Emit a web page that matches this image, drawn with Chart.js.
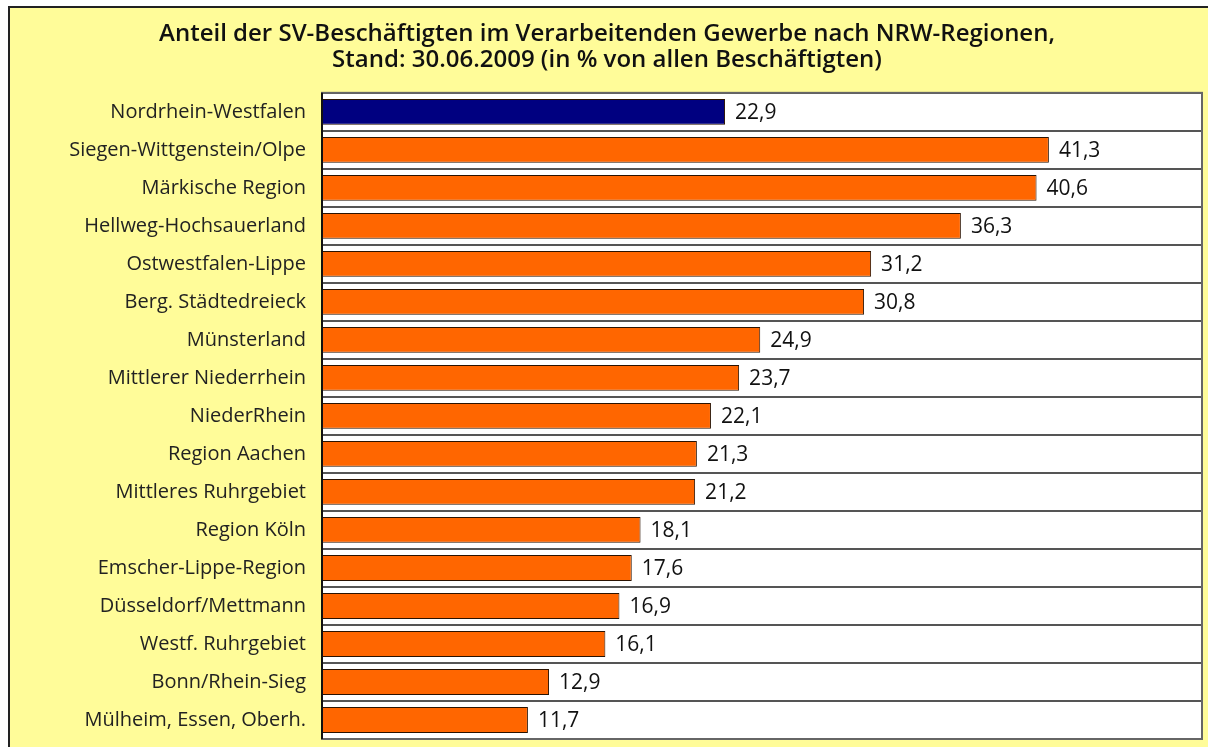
<!DOCTYPE html>
<html>
<head>
    <title>SV-Beschäftigte NRW</title>
    <script src="https://cdn.jsdelivr.net/npm/chart.js@4.4.0/dist/chart.umd.min.js"></script>
    <style>
    html, body {
        margin: 0;
        width: 1208px;
        height: 747px;
        background: #fff;
        overflow: hidden;
    }
    #frame {
        position: absolute;
        left: 8px;
        top: 6px;
        width: 1198px;
        height: 739px;
        border-left: 2px solid #222;
        border-top: 2px solid #222;
        background: #FFFC99;
    }
    #myCanvas {
        position: absolute;
        left: 0;
        top: 0;
    }
    </style>
</head>
<body>
  <div id="frame"></div>
  <canvas id="myCanvas" width="1208" height="747"></canvas>

  <script>
  // regions, sorted as in the original figure
  var regions = [
    'Nordrhein-Westfalen',
    'Siegen-Wittgenstein/Olpe',
    'Märkische Region',
    'Hellweg-Hochsauerland',
    'Ostwestfalen-Lippe',
    'Berg. Städtedreieck',
    'Münsterland',
    'Mittlerer Niederrhein',
    'NiederRhein',
    'Region Aachen',
    'Mittleres Ruhrgebiet',
    'Region Köln',
    'Emscher-Lippe-Region',
    'Düsseldorf/Mettmann',
    'Westf. Ruhrgebiet',
    'Bonn/Rhein-Sieg',
    'Mülheim, Essen, Oberh.'
  ];
  var shares = [22.9, 41.3, 40.6, 36.3, 31.2, 30.8, 24.9, 23.7, 22.1, 21.3, 21.2, 18.1, 17.6, 16.9, 16.1, 12.9, 11.7];
  var titleLines = [
    'Anteil der SV-Beschäftigten im Verarbeitenden Gewerbe nach NRW-Regionen,',
    'Stand: 30.06.2009 (in % von allen Beschäftigten)'
  ];

  var barColors = shares.map(function(v, i) { return i == 0 ? '#000080' : '#FF6600'; });

  // white plot background with grey frame
  var plotBg = {
    id: 'plotBg',
    beforeDraw: function(chart) {
      var a = chart.chartArea, ctx = chart.ctx;
      ctx.save();
      ctx.fillStyle = '#fff';
      ctx.fillRect(a.left, a.top, a.right - a.left, a.bottom - a.top);
      ctx.restore();
    },
    afterDraw: function(chart) {
      var a = chart.chartArea, ctx = chart.ctx;
      ctx.save();
      ctx.strokeStyle = '#666';
      ctx.lineWidth = 2;
      ctx.strokeRect(a.left, a.top, a.right - a.left, a.bottom - a.top);
      ctx.strokeStyle = '#111';
      ctx.beginPath();
      ctx.moveTo(a.left, a.top);
      ctx.lineTo(a.left, a.bottom);
      ctx.stroke();
      ctx.restore();
    }
  };

  // value labels right of each bar
  var valueLabels = {
    id: 'valueLabels',
    afterDatasetsDraw: function(chart) {
      var ctx = chart.ctx;
      var meta = chart.getDatasetMeta(0);
      ctx.save();
      ctx.font = '500 21px "Open Sans", sans-serif';
      ctx.fillStyle = '#111';
      ctx.textBaseline = 'middle';
      ctx.textAlign = 'left';
      meta.data.forEach(function(bar, i) {
        ctx.fillText(shares[i].toFixed(1).replace('.', ','), bar.x + 10, bar.y + 1);
      });
      ctx.restore();
    }
  };

  new Chart(document.getElementById('myCanvas'), {
    type: 'bar',
    data: {
      labels: regions,
      datasets: [{
        data: shares,
        backgroundColor: barColors,
        borderColor: '#2a1200',
        borderWidth: 1,
        barPercentage: 0.68,
        categoryPercentage: 1
      }]
    },
    options: {
      indexAxis: 'y',
      responsive: false,
      animation: false,
      layout: { padding: { left: 12, right: 6, top: 0, bottom: 8 } },
      plugins: {
        legend: { display: false },
        tooltip: { enabled: false },
        title: {
          display: true,
          text: titleLines,
          color: '#111',
          font: { family: '"Open Sans", sans-serif', size: 24, weight: '600', lineHeight: 1.08 },
          padding: { top: 21, bottom: 20 }
        }
      },
      scales: {
        x: {
          display: false,
          min: 0,
          max: 50
        },
        y: {
          afterFit: function(scale) {
            scale.width = 310;
            scale.paddingTop = 0;
            scale.paddingBottom = 0;
          },
          grid: {
            color: '#555',
            lineWidth: 2,
            drawTicks: false,
            offset: true
          },
          border: { display: false },
          ticks: {
            color: '#222',
            padding: 16,
            font: { family: '"Open Sans", sans-serif', size: 20 }
          }
        }
      }
    },
    plugins: [plotBg, valueLabels]
  });
  </script>
</body>
</html>
